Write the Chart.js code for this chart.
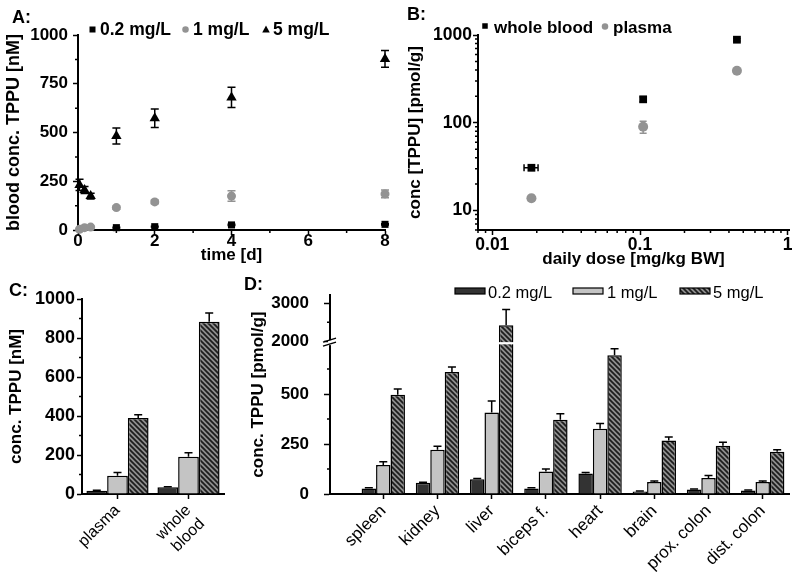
<!DOCTYPE html>
<html>
<head>
<meta charset="utf-8">
<title>TPPU concentrations</title>
<script src="https://cdn.jsdelivr.net/npm/chart.js@4.4.1/dist/chart.umd.min.js"></script>
<style>
  html, body { margin: 0; padding: 0; background: #fff; }
  #fig { position: relative; width: 800px; height: 584px; overflow: hidden; background: #fff; }
  #fig canvas { position: absolute; }
  .panel-label { position: absolute; font: bold 18px 'Liberation Sans', Arial, sans-serif; line-height: 1; color: #000; }
</style>
</head>
<body>
<div id="fig">
  <canvas id="chartA" width="400" height="270" style="left:0px;top:0px"></canvas>
  <canvas id="chartB" width="400" height="270" style="left:400px;top:0px"></canvas>
  <canvas id="chartC" width="230" height="314" style="left:0px;top:270px"></canvas>
  <canvas id="chartD" width="570" height="314" style="left:230px;top:270px"></canvas>
  <div class="panel-label" style="left:12px;top:8px">A:</div>
  <div class="panel-label" style="left:407px;top:5px">B:</div>
  <div class="panel-label" style="left:9px;top:281px">C:</div>
  <div class="panel-label" style="left:244px;top:275px">D:</div>
</div>
<script>
// ---------------- data ----------------
const doseGroups = ['0.2 mg/L', '1 mg/L', '5 mg/L'];

// Panel A: blood concentration over time
const timeDays = [0.04, 0.17, 0.33, 1, 2, 4, 8];
const bloodLow = [null, null, null, 12, 17, 26, 29];
const bloodLowErr = [0, 0, 0, 2, 2, 3, 3];
const bloodMid = [4, 12, 15, 115, 144, 174, 185];
const bloodMidErr = [3, 3, 4, 8, 10, 27, 20];
const bloodHigh = [231, 205, 174, 482, 573, 680, 877];
const bloodHighErr = [29, 18, 15, 41, 47, 52, 43];
const timeTicks = [0, 2, 4, 6, 8];
const timeMinorTicks = [1, 3, 5, 7];
const bloodTicks = [0, 250, 500, 750, 1000];
const bloodMinorTicks = [125, 375, 625, 875];

// Panel B: concentration vs daily dose (log-log)
const matrixSeries = ['whole blood', 'plasma'];
const dailyDose = [0.0184, 0.105, 0.453];
const dailyDoseErr = [0.002, 0, 0];
const wholeBloodConc = [30.7, 185, 884];
const wholeBloodErr = [2, 12, 30];
const plasmaConc = [13.8, 90, 392];
const plasmaErr = [1, 14, 15];
const doseTicks = [0.01, 0.1, 1];
const doseMinorTicks = [0.008, 0.009, 0.02, 0.03, 0.04, 0.05, 0.06, 0.07, 0.08, 0.09, 0.2, 0.3, 0.4, 0.5, 0.6, 0.7, 0.8, 0.9];
const concTicks = [10, 100, 1000];
const concMinorTicks = [6, 7, 8, 9, 20, 30, 40, 50, 60, 70, 80, 90, 200, 300, 400, 500, 600, 700, 800, 900];

// Panel C: plasma vs whole blood
const matrixLabels = ['plasma', ['whole', 'blood']];
const matrixLow = [17, 34];
const matrixLowErr = [2, 3];
const matrixMid = [93, 191];
const matrixMidErr = [17, 21];
const matrixHigh = [390, 883];
const matrixHighErr = [17, 45];
const matrixTicks = [0, 200, 400, 600, 800, 1000];
const matrixMinorTicks = [100, 300, 500, 700, 900];

// Panel D: tissue concentrations
const tissues = ['spleen', 'kidney', 'liver', 'biceps f.', 'heart', 'brain', 'prox. colon', 'dist. colon'];
const tissueLow = [28, 56, 74, 28, 102, 13, 22, 18];
const tissueLowErr = [3, 3, 4, 3, 5, 2, 3, 2];
const tissueMid = [145, 221, 408, 112, 326, 60, 80, 60];
const tissueMidErr = [17, 18, 57, 13, 27, 5, 12, 5];
const tissueHigh = [497, 610, 2425, 371, 694, 268, 241, 212];
const tissueHighErr = [28, 25, 416, 30, 33, 17, 18, 10];
const tissueTicks = [0, 250, 500, 2000, 3000];
const tissueMinorTicks = [125, 375, 625, 2500];

// axis break of panel D
const BREAK_LOW = 765, BREAK_HIGH = 2000, LOW_SHARE = 0.769;

// ---------------- setup ----------------
const FONT = "'Liberation Sans', Arial, Helvetica, sans-serif";
Chart.defaults.font.family = FONT;
Chart.defaults.color = '#000';
const bold = s => ({ family: FONT, size: s, weight: 'bold', lineHeight: 1.2 });
const regular = s => ({ family: FONT, size: s, weight: 'normal', lineHeight: 1.2 });

const BaseLinear = Chart.LinearScale || Chart.registry.getScale('linear');
class BrokenLinearScale extends BaseLinear {
  getPixelForValue(value) {
    const h = this.bottom - this.top;
    const lowPx = h * LOW_SHARE;
    let off;
    if (value <= BREAK_LOW) off = (value - this.min) / (BREAK_LOW - this.min) * lowPx;
    else if (value >= BREAK_HIGH) off = lowPx + (value - BREAK_HIGH) / (this.max - BREAK_HIGH) * (h - lowPx);
    else off = lowPx;
    return this.bottom - off;
  }
  getValueForPixel(pixel) {
    const h = this.bottom - this.top;
    const lowPx = h * LOW_SHARE;
    const off = this.bottom - pixel;
    if (off <= lowPx) return this.min + off / lowPx * (BREAK_LOW - this.min);
    return BREAK_HIGH + (off - lowPx) / (h - lowPx) * (this.max - BREAK_HIGH);
  }
}
BrokenLinearScale.id = 'brokenLinear';
BrokenLinearScale.defaults = BaseLinear.defaults;
Chart.register(BrokenLinearScale);

function drawErrorBars(chart, onTop) {
  const ctx = chart.ctx;
  chart.data.datasets.forEach((ds, di) => {
    const eb = ds.errorBars;
    if (!eb || !!eb.onTop !== onTop) return;
    const meta = chart.getDatasetMeta(di);
    const xs = chart.scales[meta.xAxisID], ys = chart.scales[meta.yAxisID];
    const cap = eb.cap || 4;
    ctx.save();
    ctx.strokeStyle = eb.color || '#000';
    ctx.lineWidth = eb.lineWidth || 1.5;
    meta.data.forEach((el, i) => {
      const p = meta.controller.getParsed(i);
      if (!p || p.y == null || isNaN(p.y)) return;
      const ey = eb.y ? eb.y[i] : 0;
      const ex = eb.x ? eb.x[i] : 0;
      ctx.beginPath();
      if (ey) {
        const yt = ys.getPixelForValue(p.y + ey);
        const yb = eb.oneSided ? el.y : ys.getPixelForValue(p.y - ey);
        ctx.moveTo(el.x, yb); ctx.lineTo(el.x, yt);
        ctx.moveTo(el.x - cap, yt); ctx.lineTo(el.x + cap, yt);
        if (!eb.oneSided) { ctx.moveTo(el.x - cap, yb); ctx.lineTo(el.x + cap, yb); }
      }
      if (ex) {
        const xl = xs.getPixelForValue(p.x - ex), xr = xs.getPixelForValue(p.x + ex);
        ctx.moveTo(xl, el.y); ctx.lineTo(xr, el.y);
        ctx.moveTo(xl, el.y - cap); ctx.lineTo(xl, el.y + cap);
        ctx.moveTo(xr, el.y - cap); ctx.lineTo(xr, el.y + cap);
      }
      ctx.stroke();
    });
    ctx.restore();
  });
}
Chart.register({
  id: 'errorBars',
  beforeDatasetsDraw(chart) { drawErrorBars(chart, false); },
  afterDatasetsDraw(chart) { drawErrorBars(chart, true); }
});

function minorTicksPlugin(list) {
  return {
    id: 'minorTicks',
    afterDraw(chart) {
      const ctx = chart.ctx;
      ctx.save();
      ctx.strokeStyle = '#000';
      ctx.lineWidth = 1.5;
      ctx.beginPath();
      list.forEach(m => {
        const s = chart.scales[m.axis];
        m.values.forEach(v => {
          const p = s.getPixelForValue(v);
          if (s.isHorizontal()) { ctx.moveTo(p, s.top); ctx.lineTo(p, s.top + m.len); }
          else { ctx.moveTo(s.right - m.len, p); ctx.lineTo(s.right, p); }
        });
      });
      ctx.stroke();
      ctx.restore();
    }
  };
}

function drawMarker(ctx, it, ds) {
  ctx.save();
  const fill = ds.legendColor || ds.backgroundColor || ds.pointBackgroundColor;
  ctx.fillStyle = fill;
  ctx.strokeStyle = '#000';
  ctx.lineWidth = 1.2;
  const s = it.size;
  if (it.kind === 'rect') {
    ctx.fillRect(it.mx - s / 2, it.my - s / 2, s, s);
  } else if (it.kind === 'circle') {
    ctx.beginPath(); ctx.arc(it.mx, it.my, s / 2, 0, Math.PI * 2); ctx.fill();
  } else if (it.kind === 'triangle') {
    ctx.beginPath();
    ctx.moveTo(it.mx, it.my - s * 0.55);
    ctx.lineTo(it.mx + s / 2, it.my + s * 0.4);
    ctx.lineTo(it.mx - s / 2, it.my + s * 0.4);
    ctx.closePath(); ctx.fill();
  } else if (it.kind === 'patch') {
    ctx.fillRect(it.mx, it.my, it.w, it.h);
    ctx.strokeRect(it.mx, it.my, it.w, it.h);
  }
  ctx.restore();
}

function legendPlugin(cfg) {
  return {
    id: 'manualLegend',
    afterDraw(chart) {
      const ctx = chart.ctx;
      ctx.save();
      cfg.items.forEach(it => {
        const ds = chart.data.datasets[it.ds];
        drawMarker(ctx, it, ds);
        ctx.font = cfg.font;
        ctx.fillStyle = '#000';
        ctx.textAlign = 'left';
        ctx.textBaseline = 'alphabetic';
        ctx.fillText(ds.label, it.tx, cfg.baseline);
      });
      ctx.restore();
    }
  };
}

function axis(o) {
  const a = {
    type: o.type || 'linear',
    offset: !!o.offset,
    z: 1,
    border: { display: true, color: '#000', width: 2 },
    grid: { display: true, drawOnChartArea: false, drawTicks: true, offset: false,
            tickLength: o.tickLength || 5, tickColor: '#000', tickWidth: 1.5 },
    ticks: { color: '#000', font: o.tickFont || bold(17), padding: o.pad == null ? 2 : o.pad,
             autoSkip: false, minRotation: o.rot || 0, maxRotation: o.rot || 0 },
    title: o.title ? { display: true, text: o.title, color: '#000', font: bold(o.titleSize || 17), padding: o.titlePad }
                   : { display: false },
    afterFit: s => { if (o.width != null) s.width = o.width; if (o.height != null) s.height = o.height; }
  };
  if (o.min != null) a.min = o.min;
  if (o.max != null) a.max = o.max;
  if (o.ticks) a.afterBuildTicks = s => { s.ticks = o.ticks.map(v => ({ value: v })); };
  if (o.callback) a.ticks.callback = o.callback;
  return a;
}

function baseOptions(padding) {
  return {
    responsive: false, animation: false, devicePixelRatio: 1, events: [],
    layout: { padding },
    plugins: { legend: { display: false }, tooltip: { enabled: false } }
  };
}

function hatchPattern() {
  const c = document.createElement('canvas');
  c.width = 5; c.height = 5;
  const g = c.getContext('2d');
  g.fillStyle = '#8e8e8e';
  g.fillRect(0, 0, 5, 5);
  g.strokeStyle = '#1c1c1c';
  g.lineWidth = 1.7;
  g.beginPath();
  g.moveTo(-1, -1); g.lineTo(6, 6);
  g.moveTo(-1, 4); g.lineTo(1, 6);
  g.moveTo(4, -1); g.lineTo(6, 1);
  g.stroke();
  return g.createPattern(c, 'repeat');
}
const HATCH = hatchPattern();
const LOW_COLOR = '#333333', MID_COLOR = '#c4c4c4';
const GRAY_POINT = '#939393';
const asNum = v => String(v);

// ---------------- Panel A ----------------
new Chart(document.getElementById('chartA'), {
  type: 'scatter',
  data: {
    datasets: [
      { label: doseGroups[0], data: timeDays.map((t, i) => ({ x: t, y: bloodLow[i] })),
        pointStyle: 'rect', pointRadius: 5, pointBackgroundColor: '#000', backgroundColor: '#000',
        pointBorderWidth: 0, clip: false, errorBars: { y: bloodLowErr, color: '#000' } },
      { label: doseGroups[1], data: timeDays.map((t, i) => ({ x: t, y: bloodMid[i] })),
        pointStyle: 'circle', pointRadius: 4.5, pointBackgroundColor: GRAY_POINT, backgroundColor: GRAY_POINT,
        pointBorderWidth: 0, clip: false, errorBars: { y: bloodMidErr, color: GRAY_POINT } },
      { label: doseGroups[2], data: timeDays.map((t, i) => ({ x: t, y: bloodHigh[i] })),
        pointStyle: 'triangle', pointRadius: 6, pointBackgroundColor: '#000', backgroundColor: '#000',
        pointBorderWidth: 0, clip: false, errorBars: { y: bloodHighErr, color: '#000' } }
    ]
  },
  options: Object.assign(baseOptions({ top: 35, right: 15, bottom: 0, left: 0 }), {
    scales: {
      x: axis({ min: 0, max: 8, ticks: timeTicks, callback: asNum, height: 40, pad: -4,
                title: 'time [d]', titlePad: { top: 0, bottom: 4 } }),
      y: axis({ min: 0, max: 1000, ticks: bloodTicks, callback: asNum, width: 78, pad: 5,
                title: 'blood conc. TPPU [nM]', titleSize: 18, titlePad: { top: 3, bottom: 0 } })
    }
  }),
  plugins: [
    minorTicksPlugin([{ axis: 'x', values: timeMinorTicks, len: 3 }, { axis: 'y', values: bloodMinorTicks, len: 3 }]),
    legendPlugin({ font: 'bold 17.5px ' + FONT, baseline: 35, items: [
      { ds: 0, kind: 'rect', size: 6, mx: 92.5, my: 29.5, tx: 100 },
      { ds: 1, kind: 'circle', size: 6.5, mx: 185.5, my: 29.5, tx: 193 },
      { ds: 2, kind: 'triangle', size: 7.5, mx: 266, my: 29.5, tx: 273 }
    ] })
  ]
});

// ---------------- Panel B ----------------
new Chart(document.getElementById('chartB'), {
  type: 'scatter',
  data: {
    datasets: [
      { label: matrixSeries[0], data: dailyDose.map((d, i) => ({ x: d, y: wholeBloodConc[i] })),
        pointStyle: 'rect', pointRadius: 5.5, pointBackgroundColor: '#000', backgroundColor: '#000',
        pointBorderWidth: 0, clip: false, errorBars: { y: wholeBloodErr, x: dailyDoseErr, color: '#000', cap: 3.5 } },
      { label: matrixSeries[1], data: dailyDose.map((d, i) => ({ x: d, y: plasmaConc[i] })),
        pointStyle: 'circle', pointRadius: 5, pointBackgroundColor: GRAY_POINT, backgroundColor: GRAY_POINT,
        pointBorderWidth: 0, clip: false, errorBars: { y: plasmaErr, color: GRAY_POINT, cap: 3.5 } }
    ]
  },
  options: Object.assign(baseOptions({ top: 35, right: 11, bottom: 0, left: 0 }), {
    scales: {
      x: axis({ type: 'logarithmic', min: 0.008, max: 1.02, ticks: doseTicks, callback: asNum, height: 40, pad: 0,
                tickFont: bold(17.5), title: 'daily dose [mg/kg BW]', titlePad: { top: 0, bottom: 0 } }),
      y: axis({ type: 'logarithmic', min: 6, max: 1000, ticks: concTicks, callback: asNum, width: 78, pad: 1,
                tickFont: bold(17.5), title: 'conc [TPPU] [pmol/g]', titlePad: { top: 5, bottom: 0 } })
    }
  }),
  plugins: [
    minorTicksPlugin([{ axis: 'x', values: doseMinorTicks, len: 3 }, { axis: 'y', values: concMinorTicks, len: 3 }]),
    legendPlugin({ font: 'bold 17px ' + FONT, baseline: 32.5, items: [
      { ds: 0, kind: 'rect', size: 5.5, mx: 85, my: 26, tx: 94 },
      { ds: 1, kind: 'circle', size: 6.5, mx: 205, my: 26.5, tx: 213 }
    ] })
  ]
});

// ---------------- Panel C ----------------
const barStyle = (color, err) => ({
  backgroundColor: color, legendColor: color, borderColor: '#000', borderWidth: 1.5,
  errorBars: { y: err, oneSided: true, onTop: true, color: '#000', cap: 4 }
});
new Chart(document.getElementById('chartC'), {
  type: 'bar',
  data: {
    labels: matrixLabels,
    datasets: [
      Object.assign({ label: doseGroups[0], data: matrixLow, categoryPercentage: 0.875, barPercentage: 1 }, barStyle(LOW_COLOR, matrixLowErr)),
      Object.assign({ label: doseGroups[1], data: matrixMid, categoryPercentage: 0.875, barPercentage: 1 }, barStyle(MID_COLOR, matrixMidErr)),
      Object.assign({ label: doseGroups[2], data: matrixHigh, categoryPercentage: 0.875, barPercentage: 1 }, barStyle(HATCH, matrixHighErr))
    ]
  },
  options: Object.assign(baseOptions({ top: 29, right: 6, bottom: 0, left: 0 }), {
    scales: {
      x: axis({ type: 'category', offset: true, height: 90, rot: 45, tickFont: regular(16), pad: 2 }),
      y: axis({ min: 0, max: 1000, ticks: matrixTicks, callback: asNum, width: 82, pad: 2, tickFont: bold(18),
                title: 'conc. TPPU [nM]', titlePad: { top: 6, bottom: 0 } })
    }
  }),
  plugins: [minorTicksPlugin([{ axis: 'y', values: matrixMinorTicks, len: 3 }])]
});

// ---------------- Panel D ----------------
const axisBreakPlugin = {
  id: 'axisBreak',
  afterDraw(chart) {
    const ys = chart.scales.y, ca = chart.chartArea, ctx = chart.ctx;
    const py = ys.getPixelForValue(BREAK_LOW);
    ctx.save();
    ctx.fillStyle = '#fff';
    ctx.fillRect(ca.left + 2, py + 1, ca.right - ca.left - 2, 2.2);
    const ax = ca.left;
    ctx.fillRect(ax - 2, py - 1, 4, 5);
    ctx.strokeStyle = '#000';
    ctx.lineWidth = 1.5;
    ctx.beginPath();
    ctx.moveTo(ax - 7, py + 1); ctx.lineTo(ax + 6, py - 3);
    ctx.moveTo(ax - 7, py + 5); ctx.lineTo(ax + 6, py + 1);
    ctx.stroke();
    ctx.restore();
  }
};
new Chart(document.getElementById('chartD'), {
  type: 'bar',
  data: {
    datasets: [
      Object.assign({ label: doseGroups[0], data: tissueLow.map((v, i) => ({ x: i, y: v })), categoryPercentage: 0.8, barPercentage: 1 }, barStyle(LOW_COLOR, tissueLowErr)),
      Object.assign({ label: doseGroups[1], data: tissueMid.map((v, i) => ({ x: i, y: v })), categoryPercentage: 0.8, barPercentage: 1 }, barStyle(MID_COLOR, tissueMidErr)),
      Object.assign({ label: doseGroups[2], data: tissueHigh.map((v, i) => ({ x: i, y: v })), categoryPercentage: 0.8, barPercentage: 1 }, barStyle(HATCH, tissueHighErr))
    ]
  },
  options: Object.assign(baseOptions({ top: 25, right: 11, bottom: 0, left: 0 }), {
    scales: {
      x: axis({ type: 'linear', min: -0.983, max: 7.485, ticks: tissues.map((t, i) => i),
                callback: v => tissues[v], height: 90, rot: 45, tickFont: regular(17), pad: 2 }),
      y: axis({ type: 'brokenLinear', min: 0, max: 3220, ticks: tissueTicks, callback: asNum, width: 100, pad: 15,
                tickLength: 6, title: 'conc. TPPU [pmol/g]', titlePad: { top: 18, bottom: 0 } })
    }
  }),
  plugins: [
    minorTicksPlugin([{ axis: 'y', values: tissueMinorTicks, len: 3 }]),
    axisBreakPlugin,
    legendPlugin({ font: '16.5px ' + FONT, baseline: 27.5, items: [
      { ds: 0, kind: 'patch', mx: 225, my: 18, w: 30, h: 6, tx: 258 },
      { ds: 1, kind: 'patch', mx: 343, my: 18, w: 30, h: 6, tx: 377 },
      { ds: 2, kind: 'patch', mx: 450, my: 18, w: 30, h: 6, tx: 483 }
    ] })
  ]
});
</script>
</body>
</html>
